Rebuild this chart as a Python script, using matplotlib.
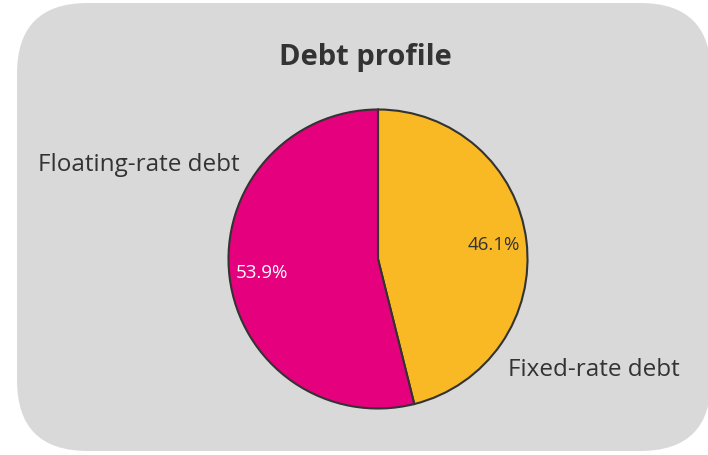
import matplotlib
matplotlib.use("Agg")
import matplotlib.pyplot as plt
from matplotlib.patches import FancyBboxPatch

title = "Debt profile"
categories = ["Fixed-rate debt", "Floating-rate debt"]
values = [46.1, 53.9]
colors = ["#f9b924", "#e5007d"]
pct_colors = ["#333333", "#ffffff"]

plt.rcParams['font.family'] = ['Open Sans', 'DejaVu Sans']

W, H = 708, 455
fig = plt.figure(figsize=(W / 100, H / 100), dpi=100)
fig.patch.set_facecolor("white")

# rounded background panel
bg = FancyBboxPatch((17 / W, 4 / H), (W - 17 + 3) / W, (H - 7) / H,
                    boxstyle="round,pad=0,rounding_size=0.1",
                    transform=fig.transFigure, facecolor="#d9d9d9",
                    edgecolor="none", zorder=-5, mutation_aspect=W / H)
fig.patches.append(bg)

fig.text(365 / W, 1 - 57 / H, title, ha="center", va="center",
         fontsize=21, fontweight="bold", color="#333333")

cx, cy, R = 378, 259, 151
ax = fig.add_axes([(cx - R) / W, 1 - (cy + R) / H, 2 * R / W, 2 * R / H])
ax.set_facecolor("none")
ax.set_zorder(2)
wedges, texts, autotexts = ax.pie(
    values, colors=colors, startangle=90, counterclock=False,
    autopct="%.1f%%", pctdistance=0.78,
    wedgeprops=dict(edgecolor="#333333", linewidth=1.5),
    textprops=dict(fontsize=13.5))
for t, c in zip(autotexts, pct_colors):
    t.set_color(c)
ax.set_xlim(-1.01, 1.01)
ax.set_ylim(-1.01, 1.01)
ax.set_aspect("equal")

fig.text(508 / W, 1 - 370 / H, categories[0], ha="left", va="center",
         fontsize=17.5, color="#333333")
fig.text(240 / W, 1 - 165 / H, categories[1], ha="right", va="center",
         fontsize=17.5, color="#333333")

fig.savefig("out.png", dpi=100, facecolor="white")
